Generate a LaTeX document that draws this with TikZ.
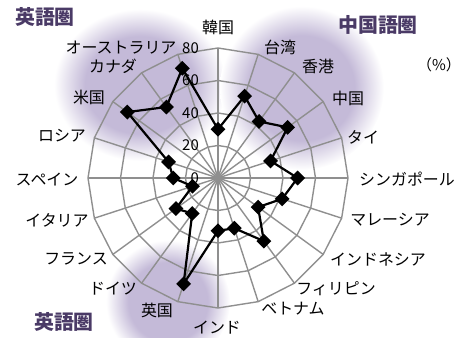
\documentclass[tikz,border=0pt]{standalone}
\usepackage{fontspec}
\setmainfont{Noto Sans CJK JP}
\usepackage{tikz}
\usetikzlibrary{shapes.geometric}
\definecolor{blob}{HTML}{C4BAD8}
\definecolor{zone}{HTML}{4A3A66}
\definecolor{gridgray}{HTML}{8F8F8F}
\pgfdeclareradialshading{blobfade}{\pgfpoint{0bp}{0bp}}{color(0bp)=(blob); color(16bp)=(blob); color(25bp)=(white); color(50bp)=(white)}

\begin{document}
\begin{tikzpicture}[x=1bp, y=1bp,
    gridline/.style={draw=gridgray, line width=1.4bp},
    axislabel/.style={font=\fontsize{16}{16}\selectfont, inner sep=0pt},
    zonelabel/.style={font=\fontsize{20}{20}\selectfont\bfseries, text=zone, inner sep=0pt},
    ticklabel/.style={font=\fontsize{15}{15}\selectfont, anchor=east, inner sep=0pt},
    datamark/.style={diamond, fill=black, inner sep=0pt, minimum size=15bp}]
    \useasboundingbox (-218,-159) rectangle (257,178);
    % language zones
    \shade[shading=blobfade] (-78,93) ellipse (86 and 76);
    \shade[shading=blobfade] (84,90) ellipse (82 and 82);
    \shade[shading=blobfade] (-50,-124) ellipse (62 and 62);
    % grid
    \foreach \i in {0,...,19}
        \draw[gridline] (0,0) -- (90-18*\i:130);
    \foreach \r in {32.5,65,97.5,130}
        \draw[gridline, line join=round] (90:\r) \foreach \i in {1,...,19} { -- (90-18*\i:\r) } -- cycle;
    \foreach \v in {0,20,40,60,80}
        \node[ticklabel] (tick\v) at (-19,\v*1.625) {\v};
    % countries
    \foreach \i/\name/\val/\lx/\ly in {0/韓国/30/0/151, 1/台湾/53/62/131, 2/香港/43/100/112,
        3/中国/53/130/80, 4/タイ/34/145/41, 5/シンガポール/49/189/-1, 6/マレーシア/41.5/172/-42,
        7/インドネシア/30.5/160/-81, 8/フィリピン/48/118/-111, 9/ベトナム/32.5/75/-131,
        10/インド/32.5/-1/-150, 11/英国/68.5/-61/-132, 12/ドイツ/27/-105/-111,
        13/フランス/32/-142/-81, 14/イタリア/16.5/-161/-42, 15/スペイン/27.5/-171/-2,
        16/ロシア/32/-156/42, 17/米国/69/-129/81, 18/カナダ/54/-105/112, 19/オーストラリア/71/-97/130} {
        \coordinate (p\i) at (90-18*\i:\val*1.625);
        \node[axislabel] (lab\i) at (\lx,\ly) {\name};
    }
    \draw[line width=2.2bp, line join=round] (p0) \foreach \i in {1,...,19} { -- (p\i) } -- cycle;
    \foreach \i in {0,...,19}
        \node[datamark] (m\i) at (p\i) {};
    \node[zonelabel] (zoneA) at (-173,161) {英語圏};
    \node[zonelabel] (zoneB) at (160,153) {中国語圏};
    \node[zonelabel] (zoneC) at (-154,-144) {英語圏};
    \node[font=\fontsize{15}{15}\selectfont, inner sep=0pt] (unit) at (221,113) {（\%）};
\end{tikzpicture}
\end{document}
